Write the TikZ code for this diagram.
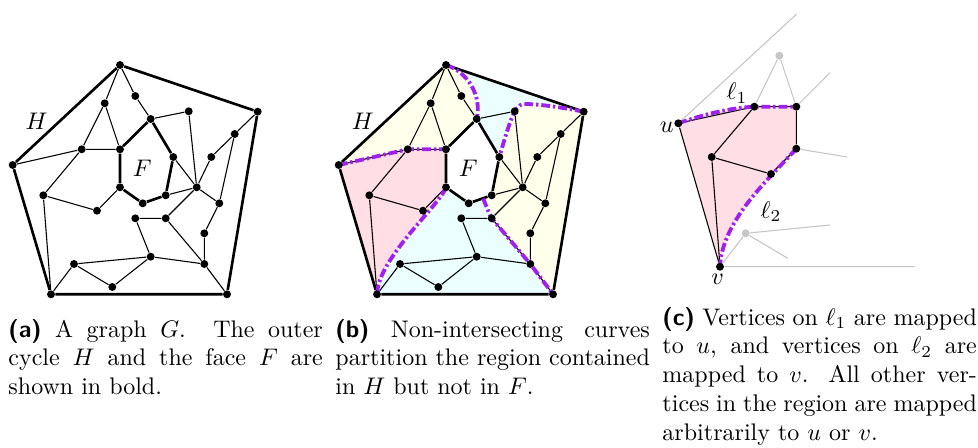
\documentclass[tikz,border=0pt]{standalone}
\definecolor{pinkf}{RGB}{255,222,230}
\definecolor{yelf}{RGB}{255,255,236}
\definecolor{cyanf}{RGB}{235,255,255}
\definecolor{purp}{RGB}{160,32,240}
\definecolor{lgray}{RGB}{198,198,198}
\pgfdeclarelayer{fills}
\pgfdeclarelayer{edges}
\pgfdeclarelayer{curves}
\pgfsetlayers{fills,edges,curves,main}
\tikzset{
  vtx/.style={circle,fill=black,inner sep=0pt,minimum size=3.3pt},
  gvtx/.style={circle,fill=lgray,inner sep=0pt,minimum size=3.3pt},
  thinedge/.style={line width=0.45pt},
  boldedge/.style={line width=1.1pt},
  sepcurve/.style={draw=purp,line width=1.6pt,dash pattern=on 3.7pt off 1.2pt on 1pt off 1.2pt},
  grayedge/.style={draw=lgray,line width=0.45pt},
  lab/.style={inner sep=0pt},
  capnode/.style={anchor=base west,inner sep=0pt},
}
\newcommand{\drawG}[1]{%
  \node[vtx] (#1T) at (120,65) {};
  \node[vtx] (#1R) at (257.7,111.7) {};
  \node[vtx] (#1L) at (12.7,165) {};
  \node[vtx] (#1BL) at (51,294.3) {};
  \node[vtx] (#1BR) at (227,294.3) {};
  \node[vtx] (#1v1) at (135.3,96) {};
  \node[vtx] (#1v2) at (104.7,103.3) {};
  \node[vtx] (#1v3) at (150.7,119) {};
  \node[vtx] (#1v4) at (188.7,111.3) {};
  \node[vtx] (#1v5) at (234.7,134) {};
  \node[vtx] (#1v6) at (81.7,149.3) {};
  \node[vtx] (#1v7) at (120,149.3) {};
  \node[vtx] (#1v8) at (173.3,157) {};
  \node[vtx] (#1v9) at (211.3,157) {};
  \node[vtx] (#1v10) at (43.3,195.3) {};
  \node[vtx] (#1v11) at (120,187.3) {};
  \node[vtx] (#1v12) at (165.7,195.3) {};
  \node[vtx] (#1v13) at (196.7,187.3) {};
  \node[vtx] (#1v14) at (142.7,203.3) {};
  \node[vtx] (#1v15) at (219.3,203.3) {};
  \node[vtx] (#1v16) at (97,210.7) {};
  \node[vtx] (#1v17) at (135.3,218.3) {};
  \node[vtx] (#1v18) at (165.7,218.3) {};
  \node[vtx] (#1v19) at (204.3,233.3) {};
  \node[vtx] (#1v20) at (150.7,256.7) {};
  \node[vtx] (#1v21) at (74,264) {};
  \node[vtx] (#1v22) at (204.3,264) {};
  \node[vtx] (#1v23) at (112.3,287) {};
  \node[lab] (#1H) at (36.7,121) {$H$};
  \node[lab] (#1F) at (142.3,168.3) {$F$};
  \begin{pgfonlayer}{edges}
    \draw[boldedge] (#1T) -- (#1R) (#1R) -- (#1BR) (#1BR) -- (#1BL)
      (#1BL) -- (#1L) (#1L) -- (#1T);
    \draw[boldedge] (#1v7) -- (#1v3) (#1v3) -- (#1v8) (#1v8) -- (#1v12)
      (#1v12) -- (#1v14) (#1v14) -- (#1v11) (#1v11) -- (#1v7);
    \draw[thinedge]
      (#1T) -- (#1v1) (#1T) -- (#1v2) (#1v1) -- (#1v3)
      (#1v2) -- (#1v6) (#1v2) -- (#1v7) (#1v3) -- (#1v4)
      (#1v4) -- (#1v13) (#1R) -- (#1v5) (#1v5) -- (#1v9)
      (#1v5) -- (#1v15) (#1v9) -- (#1v13) (#1L) -- (#1v6)
      (#1v6) -- (#1v7) (#1v6) -- (#1v10) (#1v8) -- (#1v13)
      (#1v10) -- (#1v16) (#1v10) -- (#1BL) (#1v16) -- (#1v11)
      (#1v12) -- (#1v13) (#1v13) -- (#1v15) (#1v13) -- (#1v18)
      (#1v15) -- (#1v19) (#1v19) -- (#1v22) (#1v17) -- (#1v18)
      (#1v17) -- (#1v20) (#1v18) -- (#1v22) (#1v20) -- (#1v21)
      (#1v20) -- (#1v22) (#1v20) -- (#1v23) (#1v21) -- (#1v23)
      (#1v21) -- (#1BL) (#1v22) -- (#1BR);
  \end{pgfonlayer}
}
\begin{document}
\begin{tikzpicture}[x=0.41667pt,y=-0.41667pt]
\useasboundingbox (0,0) rectangle (978,448);
% (a)
\drawG{a}
% (b)
\begin{scope}[shift={(326,0)}]
\drawG{b}
\coordinate (K) at (198,104);
\coordinate (S4) at (157.3,198.6);
\begin{pgfonlayer}{fills}
  \fill[yelf] (bL.center) -- (bT.center) .. controls (142,72) and (156,96) .. (bv3.center)
     -- (bv7.center) -- (bv6.center) -- cycle;
  \fill[cyanf] (bT.center) -- (bR.center) .. controls (239,108) and (214,104) .. (K)
     .. controls (188,104) and (182,128) .. (bv8.center) -- (bv3.center)
     .. controls (156,96) and (142,72) .. (bT.center) -- cycle;
  \fill[yelf] (bR.center) -- (bBR.center) -- (bv22.center) -- (bv18.center)
     .. controls (163,213) and (160,206) .. (S4) -- (bv12.center) -- (bv8.center)
     .. controls (182,128) and (188,104) .. (K) .. controls (214,104) and (239,108) .. (bR.center) -- cycle;
  \fill[cyanf] (bBL.center) -- (bBR.center) -- (bv22.center) -- (bv18.center)
     .. controls (163,213) and (160,206) .. (S4) -- (bv14.center) -- (bv11.center)
     .. controls (114,205) and (52,258) .. (bBL.center) -- cycle;
  \fill[pinkf] (bL.center) -- (bv6.center) -- (bv7.center) -- (bv11.center)
     .. controls (114,205) and (52,258) .. (bBL.center) -- cycle;
\end{pgfonlayer}
\begin{pgfonlayer}{curves}
  \draw[sepcurve] (bL.center) -- (bv6.center) -- (bv7.center);
  \draw[sepcurve] (bT.center) .. controls (142,72) and (156,96) .. (bv3.center);
  \draw[sepcurve] (bR.center) .. controls (239,108) and (214,104) .. (K)
     .. controls (188,104) and (182,128) .. (bv8.center);
  \draw[sepcurve] (S4) .. controls (160,206) and (163,213) .. (bv18.center)
     -- (bv22.center) -- (bBR.center);
  \draw[sepcurve] (bv11.center) .. controls (114,205) and (52,258) .. (bBL.center);
\end{pgfonlayer}
\end{scope}
% (c)
\node[vtx] (u) at (678.3,123.3) {};
\node[vtx] (v) at (720,266.7) {};
\node[vtx] (c1) at (754.3,106.7) {};
\node[vtx] (c2) at (796.3,106.7) {};
\node[vtx] (c3) at (796.3,148.7) {};
\node[vtx] (c4) at (771,174) {};
\node[vtx] (c5) at (711.7,157) {};
\node[gvtx] (g1) at (779.3,55.7) {};
\node[gvtx] (g2) at (745.7,233.3) {};
\coordinate (e1) at (796.7,14);
\coordinate (e2) at (830,72.7);
\coordinate (e3) at (847.3,157);
\coordinate (e4) at (830,225);
\coordinate (e5) at (787.7,258.3);
\coordinate (e6) at (915,266.7);
\node[lab] (ulab) at (666.7,127.3) {$u$};
\node[lab] (vlab) at (717.7,279.3) {$v$};
\node[lab] (l1lab) at (737,93.3) {$\ell_1$};
\node[lab] (l2lab) at (771,211.7) {$\ell_2$};
\begin{pgfonlayer}{fills}
  \fill[pinkf] (u.center) .. controls (705,114) and (730,108) .. (c1.center) -- (c2.center)
    -- (c3.center) .. controls (770,178) and (722,220) .. (v.center) -- cycle;
\end{pgfonlayer}
\begin{pgfonlayer}{edges}
  \draw[grayedge] (u) -- (e1) (c1) -- (g1) (g1) -- (c2) (c2) -- (e2) (c3) -- (e3)
    (v) -- (g2) (g2) -- (e4) (g2) -- (e5) (v) -- (e6);
  \draw[thinedge] (u) -- (c1) (c1) -- (c2) (c2) -- (c3) (c3) -- (c4) (c4) -- (c5)
    (c5) -- (c1) (c5) -- (v) (u) -- (v);
\end{pgfonlayer}
\begin{pgfonlayer}{curves}
  \draw[sepcurve] (u.center) .. controls (705,114) and (730,108) .. (c1.center) -- (c2.center);
  \draw[sepcurve] (c3.center) .. controls (770,178) and (722,220) .. (v.center);
\end{pgfonlayer}
% captions
\node[capnode] (capa) at (8,337) {\parbox[t]{131pt}{\textsf{\textbf{(a)}} A graph $G$. The outer\linebreak cycle $H$ and the face $F$ are\linebreak shown in bold.}};
\node[capnode] (capb) at (335,337) {\parbox[t]{131pt}{\textsf{\textbf{(b)}} Non-intersecting curves\linebreak partition the region contained\linebreak in $H$ but not in $F$.}};
\node[capnode] (capc) at (662,325) {\parbox[t]{131pt}{\textsf{\textbf{(c)}} Vertices on $\ell_1$ are mapped\linebreak to $u$, and vertices on $\ell_2$ are\linebreak mapped to $v$. All other ver-\linebreak tices in the region are mapped\linebreak arbitrarily to $u$ or $v$.}};
\end{tikzpicture}
\end{document}
